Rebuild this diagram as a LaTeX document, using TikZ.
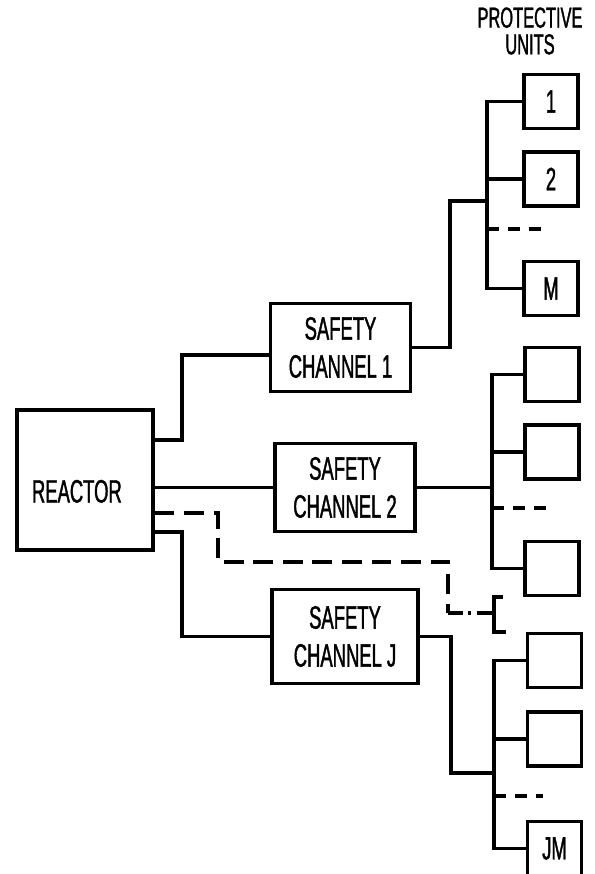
\documentclass[tikz,border=0pt]{standalone}
\usepackage{fontspec}
\newfontfamily\lettering[FakeStretch=0.57, FakeBold=1.2]{Liberation Sans}
\usetikzlibrary{calc}

\begin{document}
\begin{tikzpicture}[
  x=0.025cm, y=-0.025cm,
  wire/.style={line width=2.5pt},
  block/.style={draw, line width=2.5pt, inner sep=0pt, align=center,
    font=\lettering\fontsize{23}{27}\selectfont},
  chan/.style={block, minimum width=3.5cm, minimum height=2.2cm},
  unit/.style={block, minimum width=1.35cm, minimum height=1.35cm},
  unitdash/.style={wire, dash pattern=on 8.5pt off 6.4pt},
  sparepath/.style={wire, dash pattern=on 14pt off 7pt},
  sparelink/.style={wire, dash pattern=on 10.6pt off 3.5pt on 2pt off 4.2pt on 13pt off 10pt}
]
  \useasboundingbox (0,0) rectangle (594,874);

  % Reactor
  \node[block, minimum width=3.4cm, minimum height=3.5cm, align=left,
    text width=2.65cm, text height=32pt, text depth=0pt] (reactor) at (85,480) {REACTOR};

  % Safety channels
  \node[chan] (ch1) at (340.5,347.5) {SAFETY\\CHANNEL 1};
  \node[chan] (ch2) at (345,487.5) {SAFETY\\CHANNEL 2};
  \node[chan, minimum width=3.65cm, minimum height=2.35cm] (chJ) at (345,636.5) {SAFETY\\CHANNEL J};

  % Protective units
  \foreach \i/\y in {1/101.5, 2/179, M/288.5} {
    \node[unit] (u1\i) at (551,\y) {\i};
  }
  \foreach \i/\y in {1/374.5, 2/452, M/568.5} {
    \node[unit] (u2\i) at (552,\y) {};
  }
  \foreach \i/\y/\txt in {1/660.5/{}, 2/739/{}, M/848.5/JM} {
    \node[unit] (uJ\i) at (554.5,\y) {\txt};
  }

  % Heading
  \node[font=\lettering\fontsize{20.5}{19}\selectfont, align=center, inner sep=0pt]
    (head) at (530,31) {PROTECTIVE\\UNITS};

  % Reactor to channels
  \draw[wire] (reactor.east |- 0,440) -| (182,355) -- (ch1.west |- 0,355);
  \draw[wire] (reactor.east |- ch2.west) -- (ch2.west);
  \draw[wire] (reactor.east |- 0,532) -| (182,636.5) -- (chJ.west);

  % Spare path
  \coordinate (brk) at (494,613);
  \draw[sparepath] (reactor.east |- 0,513) -| (218,562) -| (448,613);
  \draw[sparelink] (448,613) -- (brk);
  \draw[wire] (503,597) -- (494,597) -- (494,632) -- (506,632);

  % Channel 1 to units
  \coordinate (bus1) at (487,201);
  \draw[wire] (ch1.east) -| (450,201) -- (bus1);
  \draw[wire] (u11.west) -| (bus1) |- (u1M.west);
  \draw[wire] (u12.west) -- (u12.west -| bus1);
  \draw[unitdash] (bus1 |- 0,229) -- (547,229);

  % Channel 2 to units
  \coordinate (bus2) at (492,487.5);
  \draw[wire] (ch2.east) -- (bus2);
  \draw[wire] (u21.west) -| (bus2) |- (u2M.west);
  \draw[wire] (u22.west) -- (u22.west -| bus2);
  \draw[unitdash] (bus2 |- 0,508) -- (548,508);

  % Channel J to units
  \coordinate (busJ) at (494,773);
  \draw[wire] (chJ.east) -| (451,773) -- (busJ);
  \draw[wire] (uJ1.west) -| (busJ) |- (uJM.west);
  \draw[wire] (uJ2.west) -- (uJ2.west -| busJ);
  \draw[unitdash] (busJ |- 0,796) -- (543,796);
\end{tikzpicture}
\end{document}
